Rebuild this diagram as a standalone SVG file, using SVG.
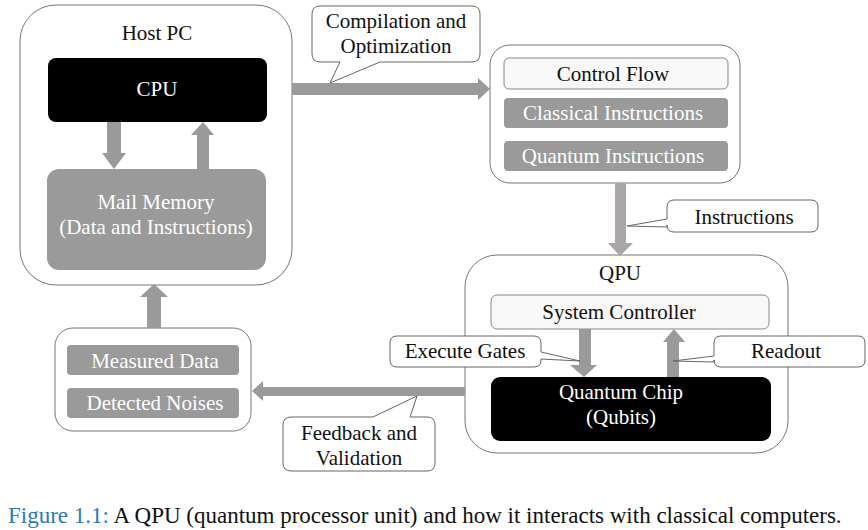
<svg xmlns="http://www.w3.org/2000/svg" width="868" height="530" viewBox="0 0 868 530">
<style>
text{font-family:'Liberation Serif','DejaVu Serif',serif;font-size:21px;text-anchor:middle;fill:#111}
.w{fill:#fff}
.frame{fill:#fff;stroke:#777;stroke-width:1}
.light{fill:#f8f8f8;stroke:#888;stroke-width:1}
.gray{fill:#9a9a9a}
.black{fill:#000}
.arrow{fill:#9a9a9a}
.call{fill:#fff;stroke:#666;stroke-width:1}
</style>
<rect width="868" height="530" fill="#fff"/>

<g id="host-pc">
<rect class="frame" x="20" y="5" width="272" height="280" rx="36"/>
<text x="157" y="40">Host PC</text>
</g>
<g id="cpu">
<rect class="black" x="48" y="58" width="219" height="64" rx="8"/>
<text class="w" x="157" y="96">CPU</text>
</g>
<g id="main-memory">
<rect class="gray" x="47" y="169" width="219" height="101" rx="12"/>
<text class="w" x="156" y="209">Mail Memory</text>
<text class="w" x="156" y="234">(Data and Instructions)</text>
</g>

<g id="program">
<rect class="frame" x="490" y="45" width="250" height="138" rx="20"/>
</g>
<g id="control-flow">
<rect class="light" x="504" y="58" width="224" height="31" rx="5"/>
<text x="613" y="81">Control Flow</text>
</g>
<g id="classical-instructions">
<rect class="gray" x="504" y="98" width="224" height="30" rx="4"/>
<text class="w" x="613" y="120">Classical Instructions</text>
</g>
<g id="quantum-instructions">
<rect class="gray" x="504" y="141" width="224" height="30" rx="4"/>
<text class="w" x="613" y="163">Quantum Instructions</text>
</g>

<g id="qpu">
<rect class="frame" x="465" y="255" width="323" height="198" rx="32"/>
<text x="620" y="280">QPU</text>
</g>
<g id="system-controller">
<rect class="light" x="491" y="295" width="278" height="34" rx="6"/>
<text x="619" y="319">System Controller</text>
</g>
<g id="quantum-chip">
<rect class="black" x="491" y="377" width="280" height="64" rx="9"/>
<text class="w" x="621" y="399">Quantum Chip</text>
<text class="w" x="621" y="424">(Qubits)</text>
</g>

<g id="measurements">
<rect class="frame" x="55" y="328" width="196" height="103" rx="18"/>
</g>
<g id="measured-data">
<rect class="gray" x="67" y="345" width="172" height="30" rx="4"/>
<text class="w" x="155" y="368">Measured Data</text>
</g>
<g id="detected-noises">
<rect class="gray" x="67" y="388" width="172" height="30" rx="4"/>
<text class="w" x="155" y="410">Detected Noises</text>
</g>

<g id="connectors">
<polygon class="arrow" points="107,122 121,122 121,153 126,153 114,169 102,153 107,153"/>
<polygon class="arrow" points="197,169 209,169 209,135 214,135 203,122 191,135 197,135"/>
<polygon class="arrow" points="292,83 478,83 478,78 490,89 478,100 478,95 292,95"/>
<polygon fill="#aba7a7" points="615,183 626,183 626,243 633,243 620,256 608,243 615,243"/>
<polygon class="arrow" points="579,329 591,329 591,365 597,365 584,377 570,365 579,365"/>
<polygon class="arrow" points="667,377 679,377 679,342 685,342 674,329 663,342 667,342"/>
<polygon class="arrow" points="465,387 465,396 263,396 263,401 252,391 263,381 263,387"/>
<polygon class="arrow" points="147,328 161,328 161,297 168,297 154,284 140,297 147,297"/>
</g>

<g id="label-compilation">
<path class="call" d="M320,6 H472 Q480,6 480,14 V54 Q480,62 472,62 H380 L330,83 L340,62 H320 Q312,62 312,54 V14 Q312,6 320,6 Z"/>
<text x="396" y="28">Compilation and</text>
<text x="396" y="53">Optimization</text>
</g>
<g id="label-instructions">
<path class="call" d="M674,200 H811 Q818,200 818,207 V225 Q818,232 811,232 H674 Q667,232 667,225 V227 L627,226 L667,219 V207 Q667,200 674,200 Z"/>
<text x="744" y="224">Instructions</text>
</g>
<g id="label-execute-gates">
<path class="call" d="M397,336 H534 Q541,336 541,343 V352 L580,361 L541,359 V360 Q541,367 534,367 H397 Q390,367 390,360 V343 Q390,336 397,336 Z"/>
<text x="465" y="358">Execute Gates</text>
</g>
<g id="label-readout">
<path class="call" d="M721,336 H858 Q865,336 865,343 V360 Q865,367 858,367 H721 Q714,367 714,360 V362 L673,361 L714,356 V343 Q714,336 721,336 Z"/>
<text x="786" y="358">Readout</text>
</g>
<g id="label-feedback">
<path class="call" d="M291,417 H373 L417,396 L410,417 H427 Q435,417 435,425 V463 Q435,471 427,471 H291 Q283,471 283,463 V425 Q283,417 291,417 Z"/>
<text x="359" y="440">Feedback and</text>
<text x="359" y="465">Validation</text>
</g>

<text x="8" y="523" style="text-anchor:start;font-size:23px"><tspan fill="#2a7ab8">Figure 1.1:</tspan> A QPU (quantum processor unit) and how it interacts with classical computers.</text>
</svg>
